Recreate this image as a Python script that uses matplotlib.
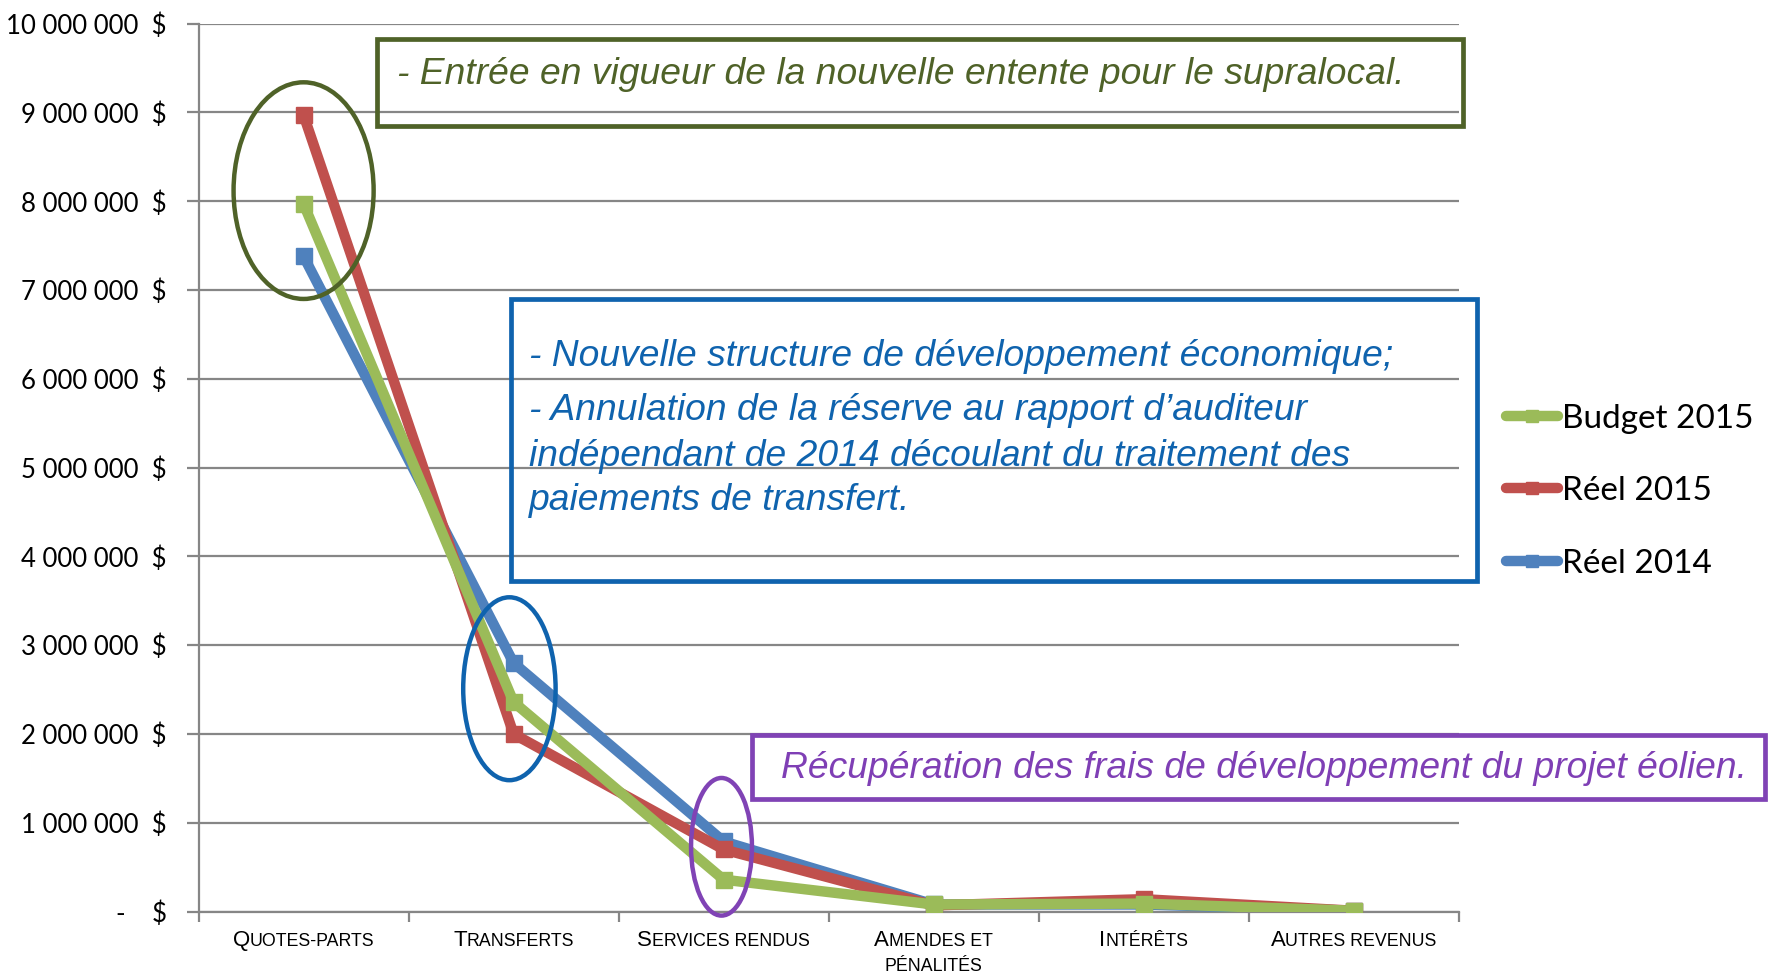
import matplotlib
matplotlib.use('Agg')
import matplotlib.pyplot as plt
from matplotlib.patches import Ellipse, Rectangle
from matplotlib.lines import Line2D
from matplotlib.ticker import FuncFormatter, FixedLocator

categories = ['Quotes-parts', 'Transferts', 'Services rendus', 'Amendes et\npénalités', 'Intérêts', 'Autres revenus']
series_names = ['Réel 2014', 'Réel 2015', 'Budget 2015']
reel_2014 = [7380000, 2800000, 790000, 80000, 80000, 10000]
reel_2015 = [8970000, 2000000, 700000, 70000, 140000, 10000]
budget_2015 = [7970000, 2360000, 360000, 80000, 90000, 10000]
colors = ['#4F81BD', '#C0504D', '#9BBB59']

note_supra = '- Entrée en vigueur de la nouvelle entente pour le supralocal.'
note_dev = ['- Nouvelle structure de développement économique;',
            '- Annulation de la réserve au rapport d\u2019auditeur',
            'indépendant de 2014 découlant du traitement des',
            'paiements de transfert.']
note_eol = 'Récupération des frais de développement du projet éolien.'

W, H = 1769, 972
fig = plt.figure(figsize=(W / 100, H / 100), dpi=100)
ax = fig.add_axes([198.6 / W, 1 - 911.6 / H, 1260 / W, 887.9 / H])


def fx(x):
    return x / W


def fy(y):
    return 1 - y / H


grid_c = '#868686'
x = list(range(len(categories)))
for vals, c in zip([reel_2014, reel_2015, budget_2015], colors):
    ax.plot(x, vals, color=c, lw=7.5, marker='s', ms=11, mec=c, mfc=c, zorder=3)

ax.set_xlim(-0.5, len(categories) - 0.5)
ax.set_ylim(0, 10000000)
ax.yaxis.set_major_locator(FixedLocator(range(0, 10000001, 1000000)))
ax.yaxis.set_major_formatter(FuncFormatter(
    lambda v, p: '-    $' if v == 0 else f'{int(v):,}'.replace(',', ' ') + '  $'))
ax.xaxis.set_major_locator(FixedLocator([i - 0.5 for i in range(len(categories) + 1)]))
ax.set_xticklabels([])
ax.yaxis.grid(True, color=grid_c, lw=1.6)
ax.set_axisbelow(True)
for s in ['top', 'right']:
    ax.spines[s].set_visible(False)
for s in ['left', 'bottom']:
    ax.spines[s].set_color(grid_c)
    ax.spines[s].set_linewidth(1.6)
ax.tick_params(axis='y', length=9, width=1.6, color=grid_c, labelsize=18.5, pad=14)
ax.tick_params(axis='x', length=7, width=1.6, color=grid_c)
for t in ax.get_yticklabels():
    t.set_fontfamily('Lato')

# small caps category labels
fig.canvas.draw()
renderer = fig.canvas.get_renderer()
big, small = 16, 12.8
for i, lab in enumerate(categories):
    cx = ax.transData.transform((i, 0))[0]
    for li, line in enumerate(lab.split('\n')):
        runs = []
        for ch in line:
            size = big if ch.isupper() else small
            if runs and runs[-1][1] == size:
                runs[-1][0] += ch.upper()
            else:
                runs.append([ch.upper(), size])
        widths = []
        for txt, size in runs:
            t = fig.text(0, 0, txt, fontsize=size, family='Liberation Sans')
            widths.append(t.get_window_extent(renderer).width)
            t.remove()
        xs = cx - sum(widths) / 2
        ybase = 946 + li * 25
        for (txt, size), w in zip(runs, widths):
            fig.text(fx(xs), fy(ybase), txt, fontsize=size, family='Liberation Sans',
                     va='baseline', ha='left', color='#000000')
            xs += w

# annotation boxes
fig.patches.append(Rectangle((fx(377), fy(126)), fx(1463 - 377), (126 - 39) / H, fill=False,
                             ec='#4F6228', lw=3.4, transform=fig.transFigure, figure=fig))
fig.text(fx(397), fy(74), note_supra, fontsize=26.8, style='italic', color='#4F6228',
         family='Liberation Sans', va='center')

fig.patches.append(Rectangle((fx(511), fy(581)), fx(1477 - 511), (581 - 299) / H, fill=False,
                             ec='#0F63AE', lw=3.4, transform=fig.transFigure, figure=fig))
for yy, line in zip([356, 411, 456, 500], note_dev):
    fig.text(fx(529), fy(yy), line, fontsize=26.8, style='italic', color='#0F63AE',
             family='Liberation Sans', va='center')

fig.patches.append(Rectangle((fx(752), fy(799)), fx(1765 - 752), (799 - 735) / H, fill=False,
                             ec='#8043B5', lw=3.4, transform=fig.transFigure, figure=fig))
fig.text(fx(781), fy(768), note_eol, fontsize=26.8, style='italic', color='#7F3FB5',
         family='Liberation Sans', va='center')

# ellipses (data coordinates)
ax.add_patch(Ellipse((0.0, 8120000), 0.667, 2440000, fill=False, ec='#4F6228', lw=3.2, zorder=4, clip_on=False))
ax.add_patch(Ellipse((0.98, 2510000), 0.44, 2060000, fill=False, ec='#0F63AE', lw=3.2, zorder=4, clip_on=False))
ax.add_patch(Ellipse((1.99, 730000), 0.29, 1550000, fill=False, ec='#8043B5', lw=3.2, zorder=4, clip_on=False))

# legend (top to bottom: Budget 2015, Réel 2015, Réel 2014)
for yy, name, c in zip([419, 491, 564], series_names[::-1], colors[::-1]):
    fig.lines.append(Line2D([fx(1506), fx(1558)], [fy(yy - 3), fy(yy - 3)], color=c, lw=7.5,
                            solid_capstyle='round', transform=fig.transFigure))
    fig.patches.append(Rectangle((fx(1526), fy(yy + 3)), fx(12), 12 / H, color=c,
                                 transform=fig.transFigure, figure=fig))
    fig.text(fx(1562), fy(yy), name, fontsize=24, family='Lato', va='center')

fig.savefig('out.png', dpi=100)
